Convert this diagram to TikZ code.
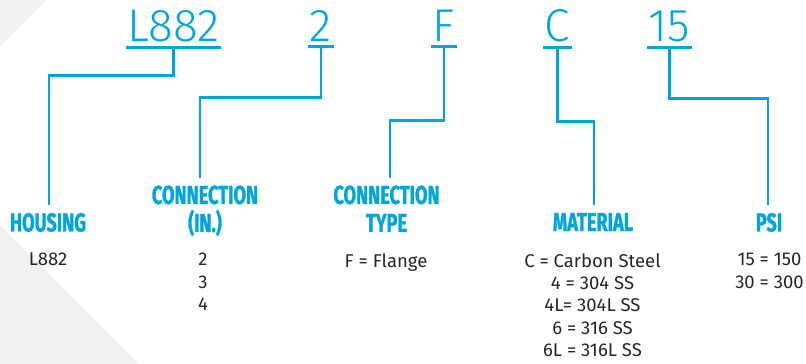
\documentclass[tikz,border=0pt]{standalone}
\usepackage{fontspec}
\setmainfont{Fira Sans}
\newfontfamily\headfont[FakeStretch=0.7, FakeBold=1.2]{Fira Sans}
\newfontfamily\codefont{Fira Sans Light}
\usepackage{tikz}
\definecolor{codeblue}{RGB}{0,166,219}
\definecolor{bggray}{RGB}{240,240,240}
\tikzset{
    code/.style={anchor=base, inner xsep=1.5pt, inner ysep=5.5pt, text=codeblue,
        font=\codefont\fontsize{46}{46}\selectfont},
    head/.style={anchor=north, inner sep=0mm, outer ysep=8pt, align=center, text=codeblue,
        font=\headfont\bfseries\fontsize{26}{28}\selectfont},
    info/.style={anchor=north, inner sep=0mm, align=center, text=black!85,
        font=\fontsize{18.5}{22.4}\selectfont},
    link/.style={draw=codeblue, line width=2.6pt}
}

\begin{document}
\begin{tikzpicture}[x=1pt, y=-1pt]
    \useasboundingbox (0,0) rectangle (806,364);
    \fill[bggray] (0,0) -- (46,0) -- (0,46) -- cycle;
    \fill[bggray] (0,225) -- (139,364) -- (0,364) -- cycle;

    \node (hous) at (173.5,41) [code] {L882};
    \node (conn) at (321,41) [code] {2};
    \node (type) at (444,41) [code] {F};
    \node (mat) at (557.5,41) [code] {C};
    \node (psi) at (669.5,41) [code] {15};

    \node (housl) at (48,205) [head] {HOUSING};
    \node (connl) at (205,177.5) [head] {CONNECTION\\(IN.)};
    \node (typel) at (386.5,177.5) [head] {CONNECTION\\TYPE};
    \node (matl) at (593,205) [head] {MATERIAL};
    \node (psil) at (769,205) [head] {PSI};

    \node (housv) at (48,253) [info] {L882};
    \node (connv) at (203,253) [info] {2\\3\\4};
    \node (typev) at (386,253) [info] {F = Flange};
    \node (matv) at (592.5,253) [info] {C = Carbon Steel\\4 = 304 SS\\4L= 304L SS\\6 = 316 SS\\6L = 316L SS};
    \node (psiv) at (769.5,253) [info] {15 = 150\\30 = 300};

    % underlines
    \foreach \c in {hous, conn, type, mat, psi}
        \draw[link] (\c.south west) -- (\c.south east);

    \draw[link] (hous.south) -- ++(0,28) -| ([xshift=1pt]housl.north);
    \draw[link] (conn.south) -- ++(0,51) -| ([xshift=-5pt]connl.north);
    \draw[link] (type.south) -- ++(0,74) -| ([xshift=3.5pt]typel.north);
    \draw[link] (mat.south) -- ++(0,74) -| ([xshift=1pt]matl.north);
    \draw[link] (psi.south) -- ++(0,51) -| ([xshift=-1pt]psil.north);
\end{tikzpicture}
\end{document}
